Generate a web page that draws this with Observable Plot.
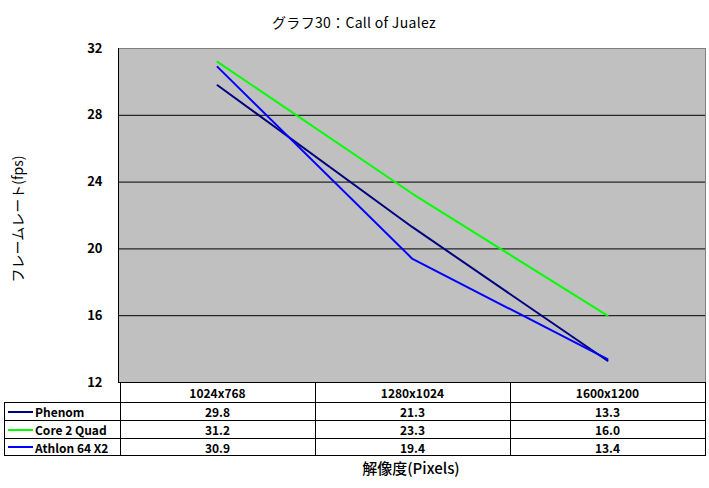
<!DOCTYPE html>
<html><head><meta charset="utf-8">
<script src="https://cdn.jsdelivr.net/npm/d3@7"></script>
<script src="https://cdn.jsdelivr.net/npm/@observablehq/plot@0.6"></script>
<style>
body{margin:0;background:#fff;}
#wrap{position:relative;width:709px;height:488px;font-family:"Noto Sans CJK JP","Noto Sans",sans-serif;color:#000;}
.ov{position:absolute;white-space:nowrap;line-height:1;}
.cell{position:absolute;box-sizing:border-box;font-size:12px;font-weight:bold;display:flex;align-items:center;justify-content:center;}
</style></head>
<body><div id="wrap"></div>
<script>
const title = "グラフ30：Call of Jualez";
const yLabel = "フレームレート(fps)";
const xLabel = "解像度(Pixels)";
const resolutions = ["1024x768", "1280x1024", "1600x1200"];
const seriesNames = ["Phenom", "Core 2 Quad", "Athlon 64 X2"];
const phenom = [29.8, 21.3, 13.3];
const core2Quad = [31.2, 23.3, 16.0];
const athlon64X2 = [30.9, 19.4, 13.4];
const seriesColors = ["#000080", "#00FF00", "#0000FF"];
const yTicks = [12, 16, 20, 24, 28, 32];
const gridTicks = [16, 20, 24, 28];

const seriesValues = [phenom, core2Quad, athlon64X2];
const rows = [];
seriesNames.forEach((s, i) => resolutions.forEach((r, j) => rows.push({series: s, res: r, fps: seriesValues[i][j]})));

const mT = 48, mB = 106, mL = 118, mR = 4, W = 709, H = 488;
const chart = Plot.plot({
  width: W, height: H, marginTop: mT, marginBottom: mB, marginLeft: mL, marginRight: mR,
  style: {fontFamily: "'Noto Sans CJK JP','Noto Sans',sans-serif", background: "transparent", color: "#000"},
  x: {type: "point", domain: resolutions, padding: 0.5, axis: null},
  y: {domain: [12, 32], axis: null},
  color: {domain: seriesNames, range: seriesColors},
  marks: [
    Plot.frame({fill: "#C0C0C0", stroke: "#808080"}),
    Plot.ruleY(gridTicks, {stroke: "#000"}),
    Plot.ruleY([12], {stroke: "#000"}),
    Plot.frame({anchor: "left", stroke: "#000"}),
    Plot.line(rows, {x: "res", y: "fps", z: "series", stroke: "series", strokeWidth: 2}),
    Plot.axisY({ticks: yTicks, tickSize: 0, tickPadding: 16, fontSize: 13, fontWeight: "bold", label: null})
  ]
});
const wrap = document.getElementById("wrap");
wrap.appendChild(chart);

function ov(text, css) {
  const d = document.createElement("div");
  d.className = "ov"; d.textContent = text;
  Object.assign(d.style, css);
  wrap.appendChild(d);
  return d;
}
ov(title, {left: "354px", top: "22px", transform: "translate(-50%,-50%)", fontSize: "14px", letterSpacing: "0.3px"});
ov(yLabel, {left: "17px", top: "219px", transform: "translate(-50%,-50%) rotate(-90deg)", fontSize: "14px"});
ov(xLabel, {left: "411px", top: "467px", transform: "translate(-50%,-50%)", fontSize: "15px", fontWeight: "500"});

// data table aligned to x scale
const xs = chart.scale("x");
const centers = resolutions.map(r => xs.apply(r));
const step = centers[1] - centers[0];
const bounds = [centers[0] - step / 2, ...centers.map(c => c + step / 2)];
const yBottom = H - mB;
const rowTops = [yBottom, yBottom + 20, yBottom + 38, yBottom + 56, yBottom + 73];
const tableLeft = 4;
function cell(x0, x1, y0, y1, css) {
  const d = document.createElement("div");
  d.className = "cell";
  Object.assign(d.style, {left: x0 + "px", top: y0 + "px", width: (x1 - x0 + 1) + "px", height: (y1 - y0 + 1) + "px"}, css || {});
  wrap.appendChild(d);
  return d;
}
// header
resolutions.forEach((r, j) => {
  const d = cell(bounds[j], bounds[j + 1], rowTops[0], rowTops[1], {borderLeft: "1px solid #000", borderRight: "1px solid #000", borderBottom: "1px solid #000"});
  d.textContent = r;
});
// series rows
seriesNames.forEach((s, i) => {
  const y0 = rowTops[i + 1], y1 = rowTops[i + 2];
  const lab = cell(tableLeft, bounds[0], y0, y1, {border: "1px solid #000", justifyContent: "flex-start"});
  const key = document.createElement("span");
  Object.assign(key.style, {display: "inline-block", width: "25px", height: "2px", background: seriesColors[i], marginLeft: "3px", marginRight: "2px"});
  lab.appendChild(key);
  lab.appendChild(document.createTextNode(s));
  seriesValues[i].forEach((v, j) => {
    const d = cell(bounds[j], bounds[j + 1], y0, y1, {border: "1px solid #000"});
    d.textContent = v.toFixed(1);
  });
});
</script></body></html>
